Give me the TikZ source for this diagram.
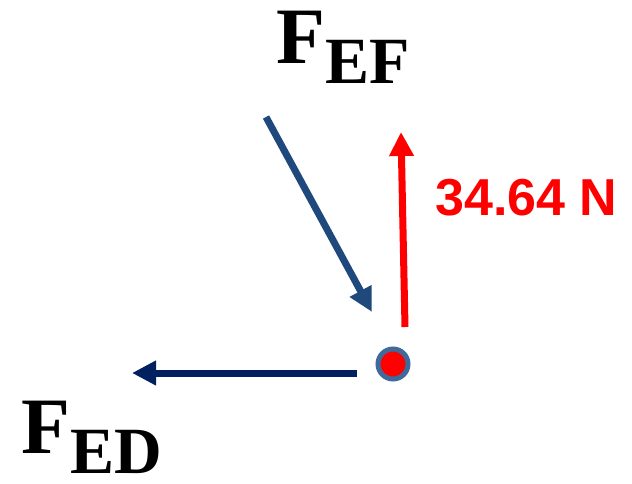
\documentclass[tikz,border=0pt]{standalone}
\usepackage{fontspec}
\usepackage{tikz}
\usetikzlibrary{arrows.meta}
\setmainfont{Liberation Serif}
\newfontfamily\labelsans{Liberation Sans}
\definecolor{cnavy}{HTML}{002060}
\definecolor{csteel}{HTML}{1F497D}
\definecolor{cring}{HTML}{3F6A9C}
\definecolor{cred}{HTML}{FF0000}
\tikzset{
  force/.style={line width=5.25pt, -{Triangle[length=18pt,width=17.5pt]}},
  flabel/.style={anchor=base west, inner sep=0pt, font=\bfseries},
}
\newcommand{\Fsub}[1]{{\fontsize{60}{60}\selectfont F}\raisebox{-15pt}{\fontsize{49.5}{50}\selectfont #1}}

\begin{document}
\begin{tikzpicture}[x=0.75pt, y=-0.75pt]
  \useasboundingbox (0,0) rectangle (632,483);
  % joint E
  \coordinate (edtail) at (357,373);
  \coordinate (edtip)  at (132,373);
  \coordinate (eftail) at (266,117);
  \coordinate (eftip)  at (372,312);
  \coordinate (ntail)  at (405,327);
  \coordinate (ntip)   at (401,132);
  \draw[force, cnavy] (edtail) -- (edtip);
  \draw[force, csteel] (eftail) -- (eftip);
  \draw[force, cred] (ntail) -- (ntip);
  \node[circle, fill=cred, draw=cring, line width=3.75pt,
        minimum size=22.5pt, inner sep=0pt] (E) at (393,364) {};
  % labels
  \node[flabel] (lef) at (276,63) {\Fsub{EF}};
  \node[flabel] (led) at (21,453) {\Fsub{ED}};
  \node[flabel, text=cred, font=\labelsans\bfseries\fontsize{39}{39}\selectfont]
        (lval) at (435,215) {34.64 N};
\end{tikzpicture}
\end{document}
